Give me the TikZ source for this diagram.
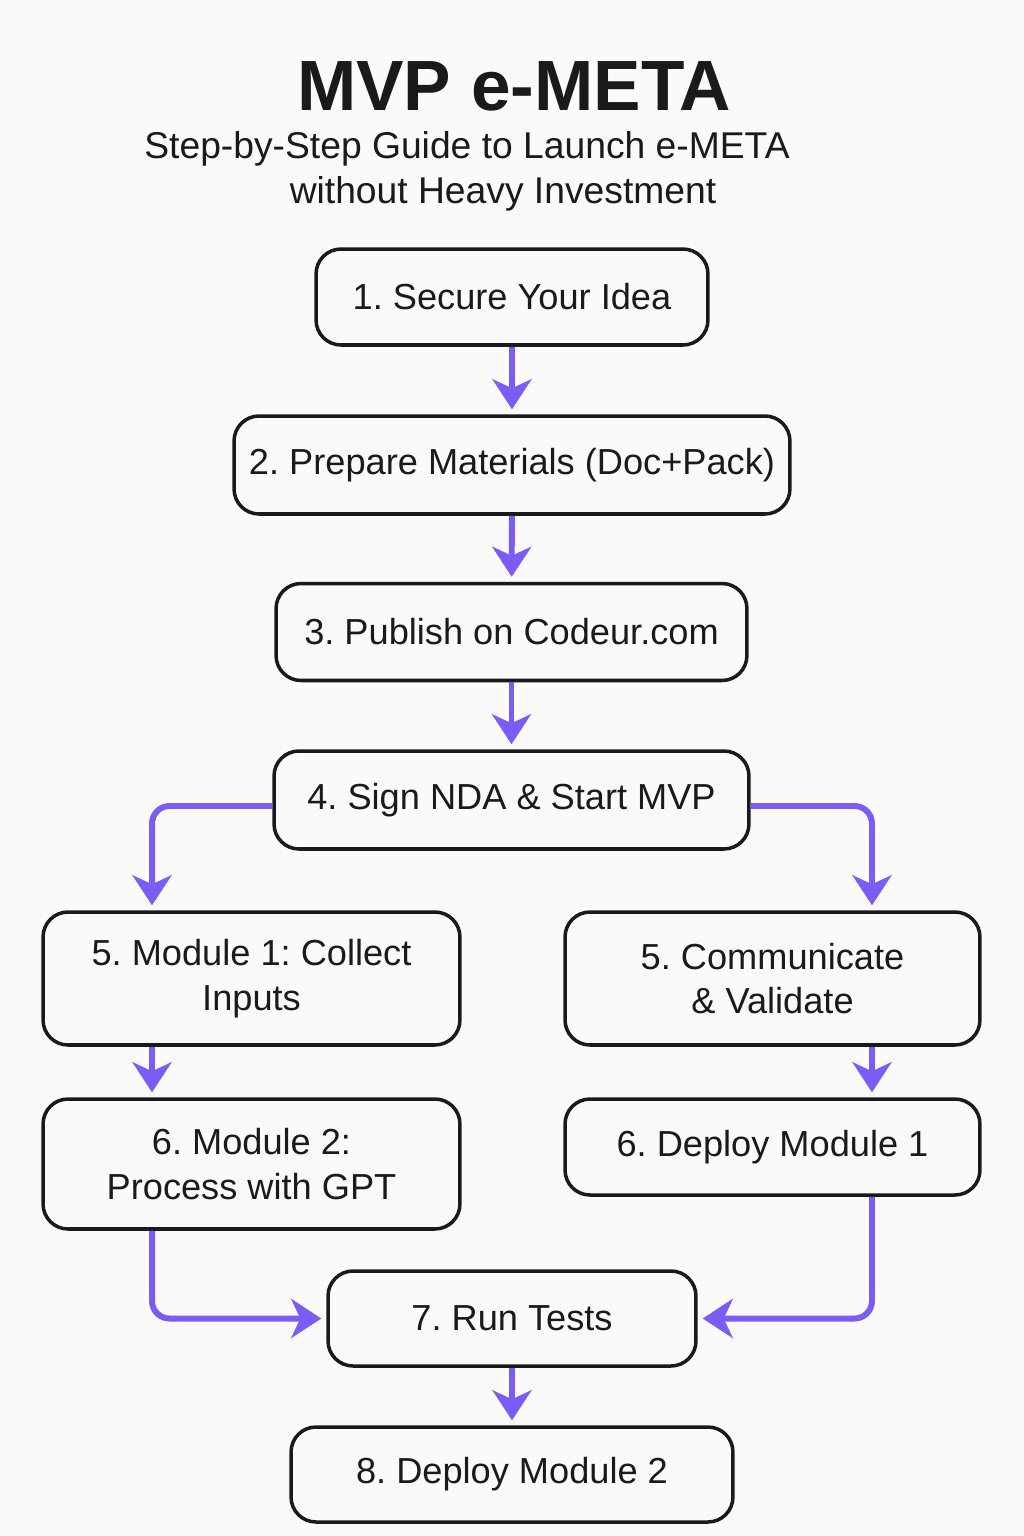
\documentclass[tikz,border=0pt]{standalone}
\usepackage{fontspec}
\setmainfont{Liberation Sans}
\usepackage{tikz}
\usetikzlibrary{arrows.meta, positioning}
\frenchspacing
\definecolor{ink}{RGB}{26,26,26}
\definecolor{flow}{RGB}{124,92,246}
\definecolor{paper}{RGB}{250,250,250}
\tikzset{
	stepbox/.style={draw=ink, line width=2pt, rounded corners=0.5cm, inner sep=0pt,
		align=center, text=ink, font=\fontsize{20.6}{25.5}\selectfont},
	flowarrow/.style={draw=flow, line width=3.4pt, rounded corners=0.35cm,
		-{Stealth[length=0.6cm, width=0.78cm, inset=0.18cm]}, shorten >=0.1cm}
}

\begin{document}
\begin{tikzpicture}[x=0.02cm, y=-0.02cm]
	% Background and page size
	\fill[paper] (0,0) rectangle (1024,1536);
	\useasboundingbox (0,0) rectangle (1024,1536);
	
	% Title
	\node[text=ink, font=\fontsize{40.5}{48}\selectfont\bfseries] (title) at (514,86) {MVP e-META};
	\node[text=ink, font=\fontsize{21.2}{24}\selectfont] (sub1) at (467,149) {Step-by-Step Guide to Launch e-META};
	\node[text=ink, font=\fontsize{21.2}{24}\selectfont] (sub2) at (503,194) {without Heavy Investment};
	
	% Steps
	\node[stepbox, minimum width=7.84cm, minimum height=1.92cm] (s1) at (512,297) {1. Secure Your Idea};
	\node[stepbox, minimum width=11.12cm, minimum height=1.96cm] (s2) at (512,465) {2. Prepare Materials (Doc+Pack)};
	\node[stepbox, minimum width=9.42cm, minimum height=1.94cm] (s3) at (511.5,632) {3. Publish on Codeur.com};
	\node[stepbox, minimum width=9.5cm, minimum height=1.96cm] (s4) at (511.5,800) {4. Sign NDA \& Start MVP};
	\node[stepbox, minimum width=8.34cm, minimum height=2.66cm] (s5a) at (251.5,978.5) {5. Module 1: Collect\\Inputs};
	\node[stepbox, minimum width=8.3cm, minimum height=2.66cm] (s5b) at (772.5,978.5) {5. Communicate\\\& Validate};
	\node[stepbox, minimum width=8.34cm, minimum height=2.6cm] (s6a) at (251.5,1164) {6. Module 2:\\Process with GPT};
	\node[stepbox, minimum width=8.3cm, minimum height=1.92cm] (s6b) at (772.5,1147) {6. Deploy Module 1};
	\node[stepbox, minimum width=7.36cm, minimum height=1.9cm] (s7) at (512,1318.5) {7. Run Tests};
	\node[stepbox, minimum width=8.84cm, minimum height=1.9cm] (s8) at (512,1474.5) {8. Deploy Module 2};
	
	% Main line
	\draw[flowarrow] (s1) -- (s2);
	\draw[flowarrow] (s2) -- (s3);
	\draw[flowarrow] (s3) -- (s4);
	
	% Split into two branches
	\draw[flowarrow] ([yshift=-0.12cm]s4.west) -| ([xshift=-1.99cm]s5a.north);
	\draw[flowarrow] ([yshift=-0.12cm]s4.east) -| ([xshift=1.99cm]s5b.north);
	\draw[flowarrow] ([xshift=-1.99cm]s5a.south) -- ([xshift=-1.99cm]s6a.north);
	\draw[flowarrow] ([xshift=1.99cm]s5b.south) -- ([xshift=1.99cm]s6b.north);
	
	% Join again
	\draw[flowarrow] ([xshift=-1.99cm]s6a.south) |- (s7.west);
	\draw[flowarrow] ([xshift=1.99cm]s6b.south) |- (s7.east);
	\draw[flowarrow] (s7) -- (s8);
\end{tikzpicture}
\end{document}
